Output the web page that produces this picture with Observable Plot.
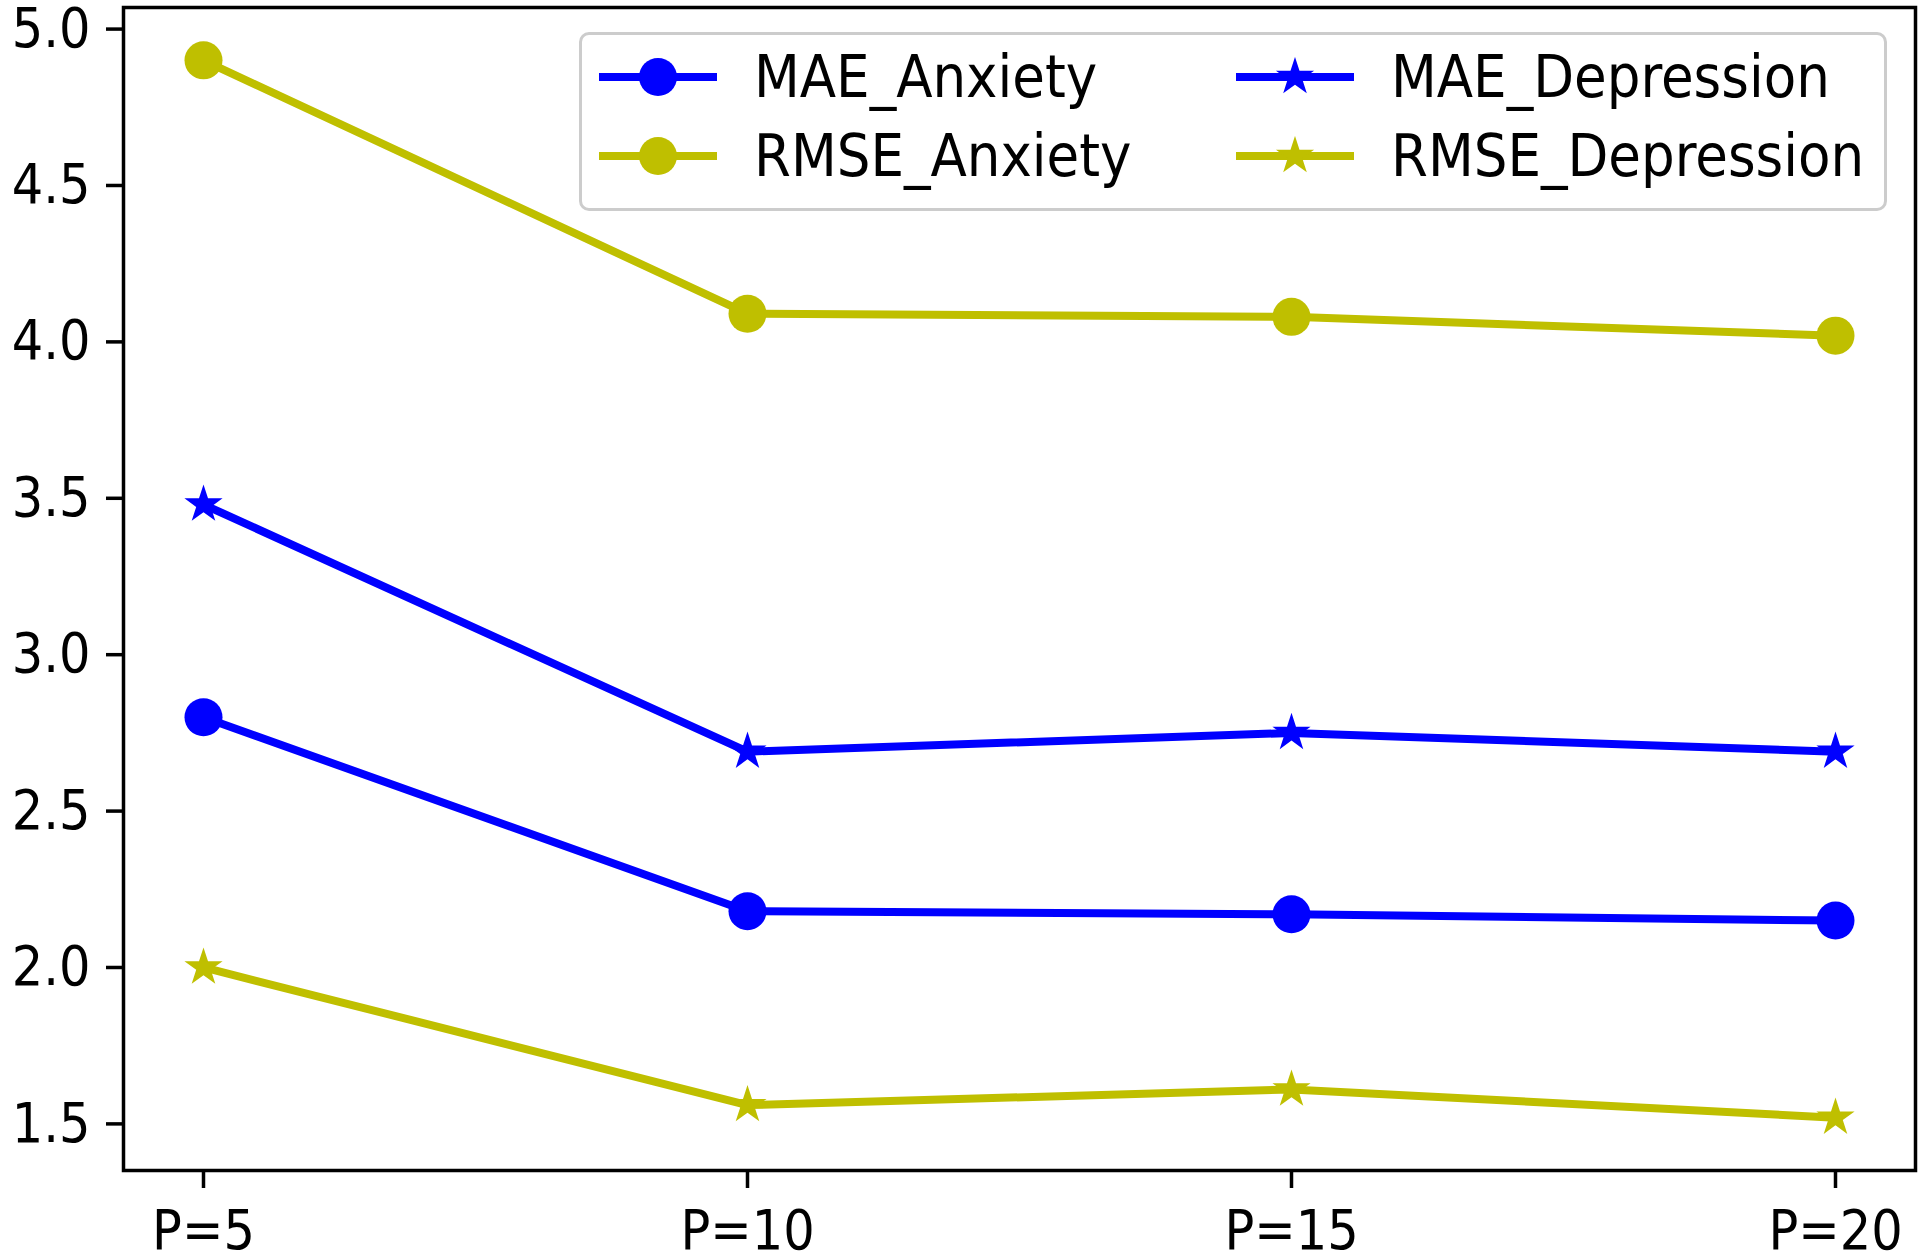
<!DOCTYPE html>
<html>
<head>
<meta charset="utf-8">
<script src="https://cdn.jsdelivr.net/npm/d3@7"></script>
<script src="https://cdn.jsdelivr.net/npm/@observablehq/plot@0.6"></script>
<style>
  html, body { margin: 0; padding: 0; background: #fff; }
  #wrap { position: relative; width: 1920px; height: 1254px; font-family: "DejaVu Sans Condensed", "DejaVu Sans", sans-serif; font-stretch: condensed; }
  #wrap svg text { font-stretch: condensed; }
  #legend { position: absolute; left: 579px; top: 32px; width: 1302px; height: 173px;
    border: 3px solid #cccccc; border-radius: 10px; background: rgba(255,255,255,0.8); }
  .item { position: absolute; height: 40px; display: flex; align-items: center; }
  .item span { font-size: 59px; color: #000; margin-left: 37px; line-height: 40px; white-space: nowrap; }
</style>
</head>
<body>
<div id="wrap"></div>
<script>
const categories = ["P=5", "P=10", "P=15", "P=20"];
const MAE_Anxiety = [2.80, 2.18, 2.17, 2.15];
const RMSE_Anxiety = [4.90, 4.09, 4.08, 4.02];
const MAE_Depression = [3.48, 2.69, 2.75, 2.69];
const RMSE_Depression = [2.00, 1.56, 1.61, 1.52];
const yTicks = [1.5, 2.0, 2.5, 3.0, 3.5, 4.0, 4.5, 5.0];

const seriesList = [
  {name: "MAE_Anxiety", values: MAE_Anxiety, color: "#0000ff", symbol: "circle"},
  {name: "RMSE_Anxiety", values: RMSE_Anxiety, color: "#bfbf00", symbol: "circle"},
  {name: "MAE_Depression", values: MAE_Depression, color: "#0000ff", symbol: "star"},
  {name: "RMSE_Depression", values: RMSE_Depression, color: "#bfbf00", symbol: "star"}
];

const rows = seriesList.flatMap(s => s.values.map((v, i) => ({series: s.name, cat: categories[i], value: v})));

const marks = [];
for (const s of seriesList) {
  const d = rows.filter(r => r.series === s.name);
  marks.push(Plot.line(d, {x: "cat", y: "value", stroke: s.color, strokeWidth: 8, strokeLinejoin: "round"}));
  marks.push(Plot.dot(d, {x: "cat", y: "value", fill: s.color, stroke: "none", symbol: s.symbol, r: s.symbol === "circle" ? 19 : 12}));
}

const fontStack = "DejaVu Sans Condensed, DejaVu Sans, sans-serif";
const chart = Plot.plot({
  width: 1920,
  height: 1254,
  marginLeft: 123,
  marginRight: 5,
  marginTop: 7,
  marginBottom: 84,
  style: {fontFamily: fontStack, background: "#fff", color: "#000"},
  x: {type: "point", domain: categories, padding: 0.147, align: 0.5},
  y: {domain: [1.351, 5.069]},
  marks: [
    Plot.axisY({ticks: yTicks, tickFormat: d => d.toFixed(1), tickSize: 17, tickPadding: 16, fontSize: 55, strokeWidth: 3.5, label: null}),
    Plot.axisX({tickSize: 18, tickPadding: 21, fontSize: 55, strokeWidth: 3.5, label: null}),
    ...marks,
    Plot.frame({stroke: "#000", strokeWidth: 3.5})
  ]
});

const wrap = document.getElementById("wrap");
wrap.appendChild(chart);

// legend
const legend = document.createElement("div");
legend.id = "legend";
wrap.appendChild(legend);
const positions = [[17, 22], [17, 101], [654, 22], [654, 101]];
seriesList.forEach((s, i) => {
  const item = document.createElement("div");
  item.className = "item";
  item.style.left = positions[i][0] + "px";
  item.style.top = positions[i][1] + "px";
  const svg = d3.create("svg").attr("width", 118).attr("height", 40);
  svg.append("line").attr("x1", 0).attr("x2", 118).attr("y1", 20).attr("y2", 20)
    .attr("stroke", s.color).attr("stroke-width", 8);
  const r = s.symbol === "circle" ? 19 : 12;
  const sym = s.symbol === "circle" ? d3.symbolCircle : d3.symbolStar;
  svg.append("path").attr("d", d3.symbol(sym, Math.PI * r * r)())
    .attr("transform", "translate(59,20)").attr("fill", s.color);
  item.appendChild(svg.node());
  const label = document.createElement("span");
  label.textContent = s.name;
  item.appendChild(label);
  legend.appendChild(item);
});
</script>
</body>
</html>
